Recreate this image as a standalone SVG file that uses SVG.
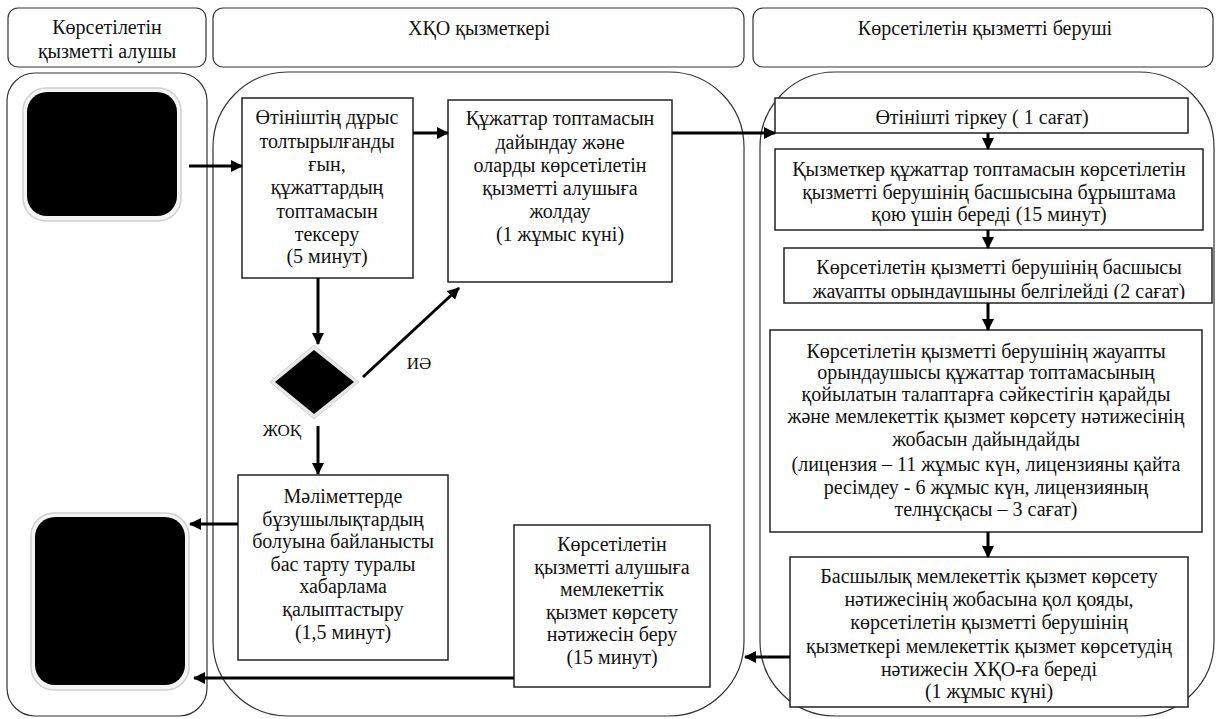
<svg xmlns="http://www.w3.org/2000/svg" width="1217" height="719" viewBox="0 0 1217 719">
<defs>
<style>
.hdr{fill:#fff;stroke:#333;stroke-width:1.2}
.lane{fill:#fff;stroke:#333;stroke-width:1.2}
.box{fill:#fff;stroke:#222;stroke-width:1.5}
.t{font-family:'Liberation Serif','Times New Roman',serif;font-size:20px;fill:#111;text-anchor:middle}
.h{font-family:'Liberation Serif','Times New Roman',serif;font-size:20px;fill:#111;text-anchor:middle}
.lbl{font-family:'Liberation Serif','Times New Roman',serif;font-size:17px;fill:#111;text-anchor:middle}
.c{fill:none;stroke:#000;stroke-width:3;marker-end:url(#ah)}
.glow{fill:#f4f4f4;stroke:#d0d0d0;stroke-width:1.5}
</style>
<marker id="ah" markerUnits="userSpaceOnUse" markerWidth="12" markerHeight="12" refX="11" refY="6" orient="auto">
<path d="M0,0 L12,6 L0,12 z" fill="#000"/>
</marker>
<clipPath id="c3clip"><rect x="784" y="248" width="428" height="51"/></clipPath>
</defs>

<g id="headers">
<rect class="hdr" x="8" y="8" width="198" height="59" rx="10"/>
<text class="h" x="107" y="34">Көрсетілетін</text>
<text class="h" x="107" y="58">қызметті алушы</text>
<rect class="hdr" x="213" y="8" width="531" height="59" rx="10"/>
<text class="h" x="479" y="35">ХҚО қызметкері</text>
<rect class="hdr" x="753" y="8" width="460" height="59" rx="10"/>
<text class="h" x="985" y="35">Көрсетілетін қызметті беруші</text>
</g>

<g id="lanes">
<rect class="lane" x="7" y="73" width="200" height="643" rx="28"/>
<rect class="lane" x="213" y="72" width="531" height="644" rx="75"/>
<rect class="lane" x="760" y="72" width="454" height="644" rx="75"/>
</g>

<g id="start">
<rect class="glow" x="23" y="88" width="158" height="133" rx="23"/>
<rect x="27" y="92" width="150" height="124" rx="20" fill="#000"/>
</g>

<g id="end">
<rect class="glow" x="31" y="513" width="158" height="177" rx="23"/>
<rect x="35" y="517" width="150" height="168" rx="20" fill="#000"/>
</g>

<g id="boxA">
<rect class="box" x="242" y="98" width="171" height="180"/>
<text class="t" x="327" y="124">Өтініштің дұрыс</text>
<text class="t" x="327" y="148">толтырылғанды</text>
<text class="t" x="327" y="171">ғын,</text>
<text class="t" x="327" y="194">құжаттардың</text>
<text class="t" x="327" y="218">топтамасын</text>
<text class="t" x="327" y="241">тексеру</text>
<text class="t" x="327" y="263">(5 минут)</text>
</g>

<g id="boxB">
<rect class="box" x="448" y="100" width="224" height="182"/>
<text class="t" x="560" y="125">Құжаттар топтамасын</text>
<text class="t" x="560" y="149">дайындау және</text>
<text class="t" x="560" y="172">оларды көрсетілетін</text>
<text class="t" x="560" y="195">қызметті алушыға</text>
<text class="t" x="560" y="218">жолдау</text>
<text class="t" x="560" y="241">(1 жұмыс күні)</text>
</g>

<g id="decision">
<polygon points="314,345 359,382 314,419 270,382" fill="#e8e8e8" stroke="#d0d0d0" stroke-width="1"/>
<polygon points="314,350 354,382 314,414 275,382" fill="#000"/>
<text class="lbl" x="419" y="369">ИӘ</text>
<text class="lbl" x="282" y="436">ЖОҚ</text>
</g>

<g id="boxD">
<rect class="box" x="238" y="475" width="210" height="185"/>
<text class="t" x="343" y="503">Мәліметтерде</text>
<text class="t" x="343" y="526">бұзушылықтардың</text>
<text class="t" x="343" y="548">болуына байланысты</text>
<text class="t" x="343" y="571">бас тарту туралы</text>
<text class="t" x="343" y="593">хабарлама</text>
<text class="t" x="343" y="616">қалыптастыру</text>
<text class="t" x="343" y="639">(1,5 минут)</text>
</g>

<g id="boxE">
<rect class="box" x="514" y="525" width="196" height="162"/>
<text class="t" x="612" y="551">Көрсетілетін</text>
<text class="t" x="612" y="574">қызметті алушыға</text>
<text class="t" x="612" y="596">мемлекеттік</text>
<text class="t" x="612" y="619">қызмет көрсету</text>
<text class="t" x="612" y="641">нәтижесін беру</text>
<text class="t" x="612" y="664">(15 минут)</text>
</g>

<g id="c1">
<rect class="box" x="775" y="98" width="413" height="35"/>
<text class="t" x="982" y="124">Өтінішті тіркеу ( 1 сағат)</text>
</g>

<g id="c2">
<rect class="box" x="775" y="149" width="428" height="81"/>
<text class="t" x="989" y="176">Қызметкер құжаттар топтамасын көрсетілетін</text>
<text class="t" x="989" y="199">қызметті берушінің басшысына бұрыштама</text>
<text class="t" x="989" y="221">қою үшін береді (15 минут)</text>
</g>

<g id="c3">
<rect class="box" x="784" y="248" width="428" height="55"/>
<g clip-path="url(#c3clip)">
<text class="t" x="999" y="274">Көрсетілетін қызметті берушінің басшысы</text>
<text class="t" x="999" y="298">жауапты орындаушыны белгілейді (2 сағат)</text>
</g>
</g>

<g id="c4">
<rect class="box" x="770" y="330" width="432" height="202"/>
<text class="t" x="986" y="358">Көрсетілетін қызметті берушінің жауапты</text>
<text class="t" x="986" y="379">орындаушысы құжаттар топтамасының</text>
<text class="t" x="986" y="401">қойылатын талаптарға сәйкестігін қарайды</text>
<text class="t" x="986" y="423">және мемлекеттік қызмет көрсету нәтижесінің</text>
<text class="t" x="986" y="446">жобасын дайындайды</text>
<text class="t" x="986" y="471">(лицензия – 11 жұмыс күн, лицензияны қайта</text>
<text class="t" x="986" y="494">ресімдеу - 6 жұмыс күн, лицензияның</text>
<text class="t" x="986" y="516">телнұсқасы – 3 сағат)</text>
</g>

<g id="c5">
<rect class="box" x="790" y="557" width="398" height="150"/>
<text class="t" x="989" y="583">Басшылық мемлекеттік қызмет көрсету</text>
<text class="t" x="989" y="606">нәтижесінің жобасына қол қояды,</text>
<text class="t" x="989" y="629">көрсетілетін қызметті берушінің</text>
<text class="t" x="989" y="653">қызметкері мемлекеттік қызмет көрсетудің</text>
<text class="t" x="989" y="676">нәтижесін ХҚО-ға береді</text>
<text class="t" x="989" y="698">(1 жұмыс күні)</text>
</g>

<g id="connectors">
<path class="c" d="M189,166 L242,166"/>
<path class="c" d="M413,133 L448,133"/>
<path class="c" d="M672,133 L775,133"/>
<path class="c" d="M318,278 L318,344"/>
<path class="c" d="M363,377 L459,288"/>
<path class="c" d="M318,426 L318,474"/>
<path class="c" d="M238,524 L190,524"/>
<path class="c" d="M514,678 L194,678"/>
<path class="c" d="M790,657 L745,657"/>
<path class="c" d="M988,133 L988,149"/>
<path class="c" d="M988,230 L988,248"/>
<path class="c" d="M988,303 L988,330"/>
<path class="c" d="M988,532 L988,557"/>
</g>
</svg>
